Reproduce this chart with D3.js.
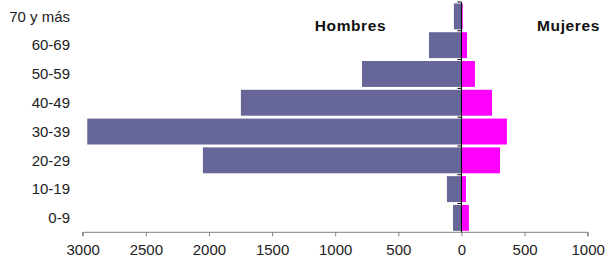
<!DOCTYPE html>
<html>
<head>
<meta charset="utf-8">
<script src="https://cdn.jsdelivr.net/npm/d3@7"></script>
<style>
  body { margin: 0; background: #fff; }
  svg { display: block; font-family: "Liberation Sans", Arial, sans-serif; }
</style>
</head>
<body>
<div id="chart"></div>
<script>
const categories = ['0-9', '10-19', '20-29', '30-39', '40-49', '50-59', '60-69', '70 y más'];
const hombres = [67, 115, 2048, 2964, 1747, 788, 257, 60];
const mujeres = [59, 36, 305, 360, 242, 107, 44, 10];
const tickValues = [-3000, -2500, -2000, -1500, -1000, -500, 0, 500, 1000];

const width = 605;
const height = 265;

const svg = d3.select('#chart').append('svg').attr('width', width).attr('height', height);

const x = d3.scaleLinear().domain([-3000, 1000]).range([82.7, 587.7]);

const y = d3
  .scaleBand()
  .domain(categories.slice().reverse())
  .range([2, 232.3])
  .paddingInner(0.1)
  .paddingOuter(0.05);

const data = categories.map((c, i) => ({ cat: c, h: hombres[i], m: mujeres[i] }));

// men bars (left side)
svg
  .selectAll('.hombres')
  .data(data)
  .enter()
  .append('rect')
  .attr('class', 'hombres')
  .attr('x', (d) => x(-d.h))
  .attr('y', (d) => y(d.cat))
  .attr('width', (d) => x(0) - x(-d.h))
  .attr('height', y.bandwidth())
  .attr('fill', '#666699');

// women bars (right side)
svg
  .selectAll('.mujeres')
  .data(data)
  .enter()
  .append('rect')
  .attr('class', 'mujeres')
  .attr('x', x(0))
  .attr('y', (d) => y(d.cat))
  .attr('width', (d) => x(d.m) - x(0))
  .attr('height', y.bandwidth())
  .attr('fill', '#ff00ff');

// bottom axis
const xAxis = svg
  .append('g')
  .attr('transform', 'translate(0, 232.3)')
  .call(d3.axisBottom(x).tickValues(tickValues).tickSize(4).tickPadding(8).tickFormat((d) => Math.abs(d)));
xAxis.select('.domain').attr('stroke', '#808080').attr('d', `M${x(-3000)},4V0H${x(1000)}V4`);
xAxis.selectAll('.tick line').attr('stroke', '#808080');
xAxis.selectAll('.tick text').attr('font-size', 15).attr('fill', '#222').attr('font-family', '"Liberation Sans", Arial, sans-serif');

// vertical axis at zero
const step = y.step();
const y0 = y.range()[0];
const bounds = d3.range(categories.length + 1).map((i) => y0 + i * step);
svg
  .append('line')
  .attr('x1', x(0))
  .attr('x2', x(0))
  .attr('y1', y0)
  .attr('y2', 232.3)
  .attr('stroke', '#000');
svg
  .selectAll('.ytick')
  .data(bounds.slice(0, -1))
  .enter()
  .append('line')
  .attr('x1', x(0) - 4)
  .attr('x2', x(0))
  .attr('y1', (d) => d)
  .attr('y2', (d) => d)
  .attr('stroke', '#000');

// category labels
svg
  .selectAll('.cat')
  .data(categories)
  .enter()
  .append('text')
  .attr('x', 70)
  .attr('y', (d) => y(d) + y.bandwidth() / 2)
  .attr('dy', '0.35em')
  .attr('text-anchor', 'end')
  .attr('font-size', 15)
  .attr('fill', '#222')
  .text((d) => d);

// series titles
svg
  .append('text')
  .attr('x', 350.5)
  .attr('y', 30.5)
  .attr('text-anchor', 'middle')
  .attr('font-size', 15.5)
  .attr('font-weight', 'bold')
  .attr('letter-spacing', 0.6)
  .attr('fill', '#111')
  .text('Hombres');
svg
  .append('text')
  .attr('x', 568.5)
  .attr('y', 30.5)
  .attr('text-anchor', 'middle')
  .attr('font-size', 15.5)
  .attr('font-weight', 'bold')
  .attr('letter-spacing', 0.6)
  .attr('fill', '#111')
  .text('Mujeres');
</script>
</body>
</html>
